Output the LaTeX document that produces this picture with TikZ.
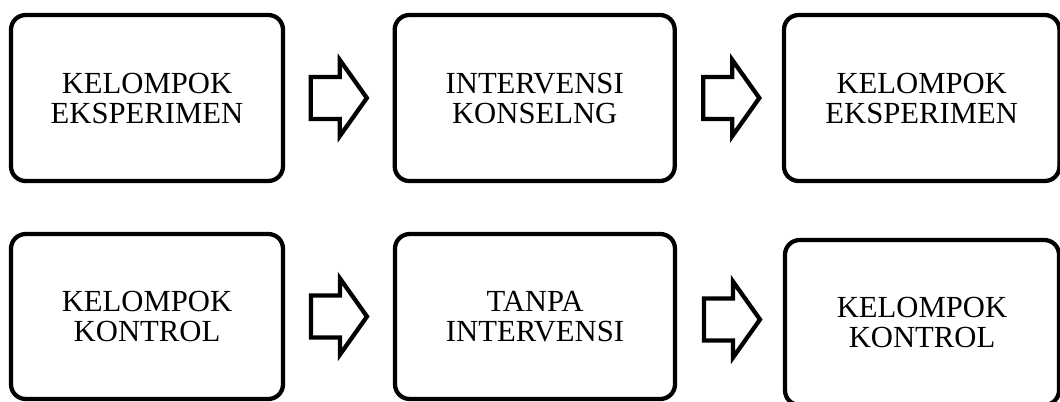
\documentclass[tikz,border=0pt]{standalone}
\usepackage{fontspec}
\setmainfont{Liberation Serif}
\usetikzlibrary{calc}
\begin{document}
\begin{tikzpicture}[x=0.75pt,y=-0.75pt,
  box/.style={draw, line width=3.2pt, rounded corners=11pt, align=center,
    inner sep=0pt, font=\fontsize{23}{22.5}\selectfont},
  arrowline/.style={draw, line width=3.2pt, miter limit=10},
  blockarrow/.pic={\draw[arrowline] (-28,-21) -- (1,-21) -- (1,-38) -- (28,0) -- (1,38) -- (1,21) -- (-28,21) -- cycle;}
]
\useasboundingbox (0,0) rectangle (1060,401);
\node[box, minimum width=204pt, minimum height=124.5pt] (t1) at (147,98) {KELOMPOK\\EKSPERIMEN};
\node[box, minimum width=210pt, minimum height=124.5pt] (t2) at (534.7,98) {INTERVENSI\\KONSELNG};
\node[box, minimum width=206.6pt, minimum height=124.5pt] (t3) at (921.7,98) {KELOMPOK\\EKSPERIMEN};
\node[box, minimum width=204pt, minimum height=123.75pt] (b1) at (147,316.5) {KELOMPOK\\KONTROL};
\node[box, minimum width=210pt, minimum height=123.75pt] (b2) at (535,316.5) {TANPA\\INTERVENSI};
\node[box, minimum width=205.5pt, minimum height=123.75pt] (b3) at (922,322.5) {KELOMPOK\\KONTROL};
\pic at ($(t1.east)!0.5!(t2.west)$) {blockarrow};
\pic[xshift=1.5pt] at ($(t2.east)!0.5!(t3.west)$) {blockarrow};
\pic at ($(b1.east)!0.5!(b2.west)$) {blockarrow};
\pic[xshift=1.5pt] at ($(b2.east)!0.5!(b3.west)$) {blockarrow};
\end{tikzpicture}
\end{document}
